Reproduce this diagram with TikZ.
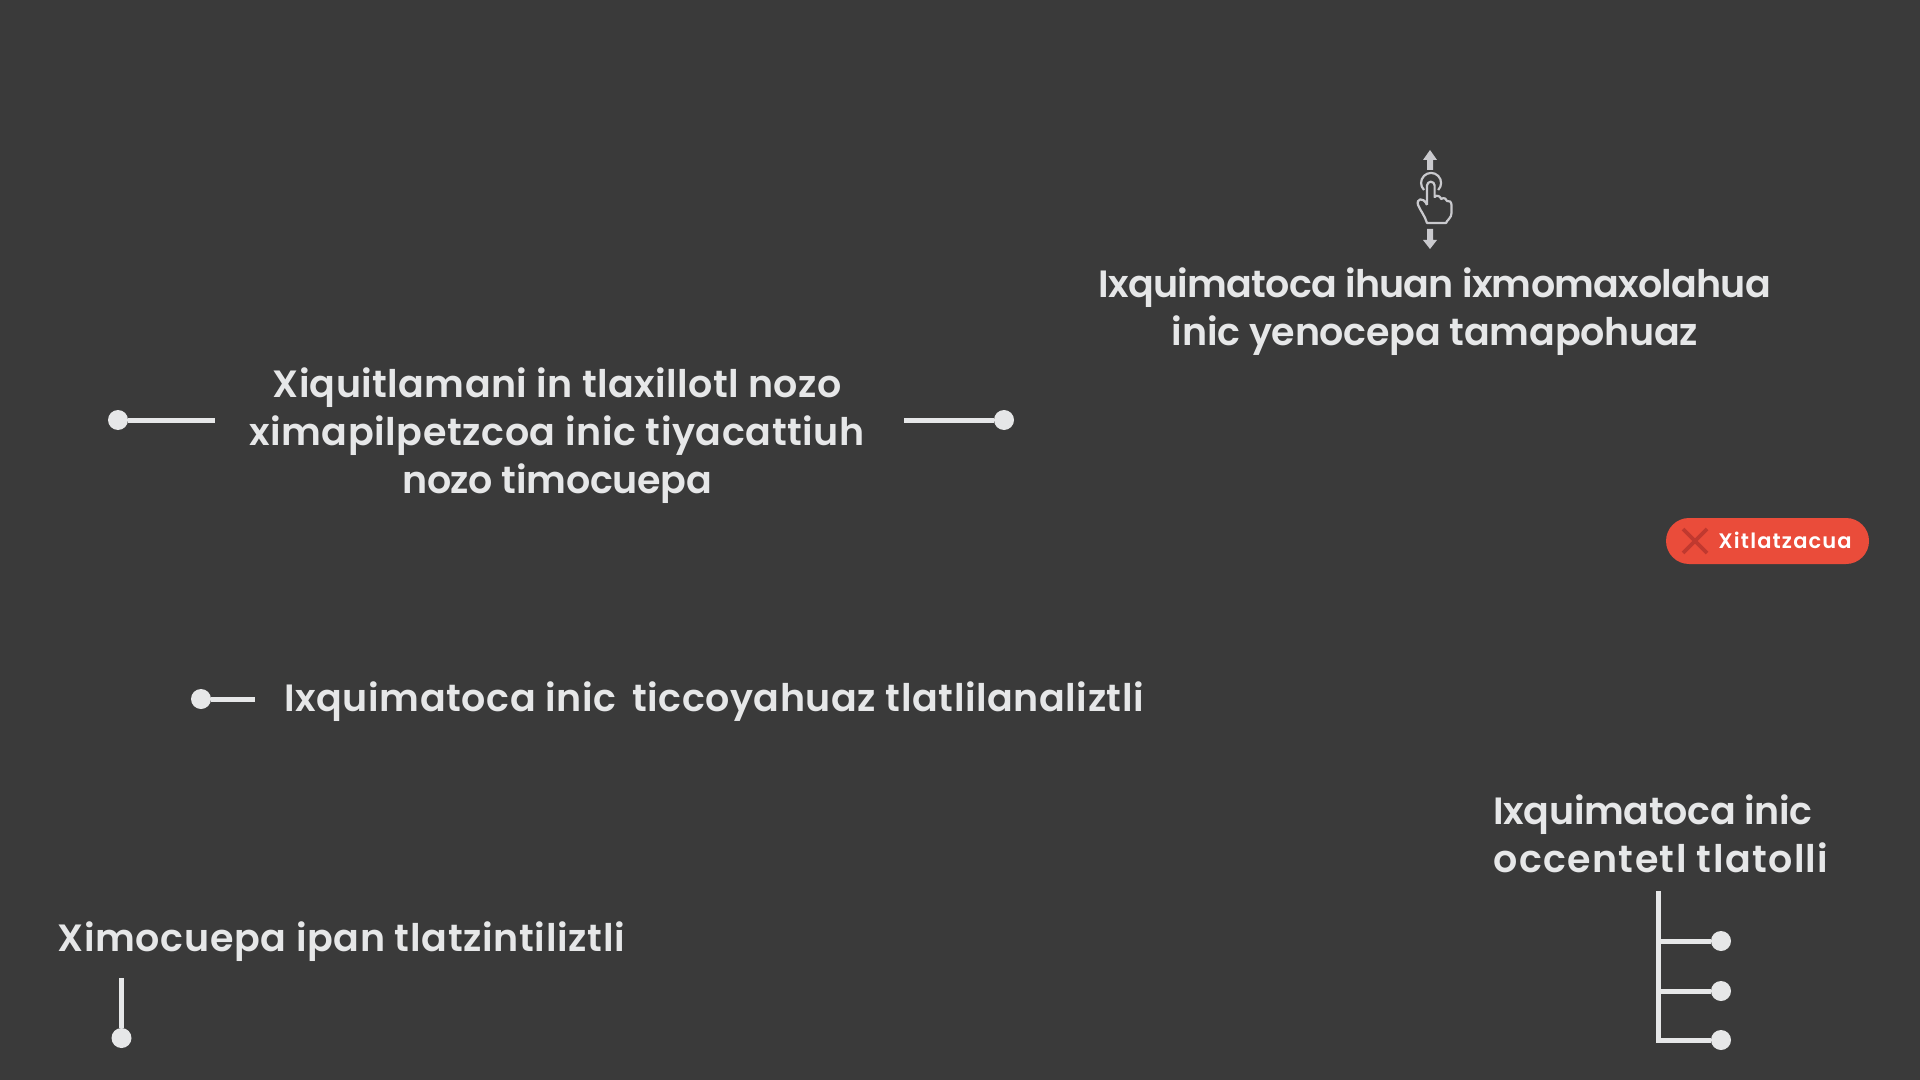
\documentclass[tikz,border=0pt]{standalone}
\usepackage{fontspec}
\setmainfont{Poppins SemiBold}
\newcommand{\spaced}[2]{{\addfontfeature{LetterSpace=#1}#2}}
\definecolor{slatebg}{HTML}{3A3A3A}
\definecolor{paleline}{HTML}{E6E7E8}
\definecolor{handgrey}{HTML}{C9C9CD}
\definecolor{pillred}{HTML}{EA4C3A}
\definecolor{crossred}{HTML}{C0392F}
\tikzset{
  lbl/.style={text=paleline,font=\fontsize{19}{24}\selectfont,inner sep=0pt,align=center},
  tip/.style={circle,fill=paleline,inner sep=0pt,minimum size=10pt},
  lead/.style={draw=paleline,line width=2.5pt}
}
\begin{document}
\begin{tikzpicture}[x=0.5pt,y=-0.5pt]
  \fill[slatebg] (0,0) rectangle (1920,1080);
  \useasboundingbox (0,0) rectangle (1920,1080);
  % swipe hint
  \fill[handgrey] (1430,150) -- (1437,160) -- (1433,160) -- (1433,170) -- (1427,170) -- (1427,160) -- (1423,160) -- cycle;
  \fill[handgrey] (1430,249) -- (1437,240) -- (1433,240) -- (1433,229) -- (1427,229) -- (1427,240) -- (1423,240) -- cycle;
  \draw[handgrey,line width=1.1pt] (1424,190) arc (135:405:10);
  \draw[handgrey,fill=slatebg,line width=1.1pt,line join=round] (1427,205) -- (1427,185.5) arc (180:360:3.8) -- (1434.6,197)
    .. controls (1437,194) and (1441,197) .. (1441,199) .. controls (1444,197) and (1447,199) .. (1447,201)
    .. controls (1449,200) and (1451.5,202) .. (1451.5,205) -- (1451.5,213) .. controls (1451.5,218) and (1447,220) .. (1446,223)
    -- (1427,223) .. controls (1425,216) and (1420,210) .. (1418,205) .. controls (1416,199) and (1423,196) .. (1427,205);
  \node[lbl] (swipe) at (1435,312) {\spaced{-2}{Ixquimatoca ihuan ixmomaxolahua}\\\spaced{-0.6}{inic yenocepa tamapohuaz}};
  % left block
  \node[lbl] (middle) at (557,436) {\spaced{1.05}{Xiquitlamani in tlaxillotl nozo}\\\spaced{1.55}{ximapilpetzcoa inic tiyacattiuh}\\\spaced{-0.8}{nozo timocuepa}};
  \node[tip] (ldot) at (118,420) {};
  \node[tip] (rdot) at (1004,420) {};
  \coordinate (lend) at (215,420);
  \coordinate (rend) at (904,420);
  \draw[lead] (ldot) -- (lend);
  \draw[lead] (rdot) -- (rend);
  % single row
  \node[lbl,anchor=west] (tap) at (284,702) {\spaced{1.5}{Ixquimatoca inic\, ticcoyahuaz tlatlilanaliztli}};
  \node[tip] (tapdot) at (201,699) {};
  \coordinate (tapend) at (255,699);
  \draw[lead] (tapdot) -- (tapend);
  % close button
  \node[fill=pillred,rounded corners=11.5pt,minimum width=101.5pt,minimum height=23pt,inner sep=0pt] (pill) at (1767.5,541) {};
  \node[text=white,font=\fontsize{10.5}{12}\selectfont,inner sep=0pt,anchor=west] (pilltext) at (1718,540) {\spaced{5.5}{Xitlatzacua}};
  \draw[crossred,line width=1.9pt] (1683,529) -- (1707,553) (1707,529) -- (1683,553);
  % back label
  \node[lbl,anchor=west] (back) at (57,942) {\spaced{1.75}{Ximocuepa ipan tlatzintiliztli}};
  \node[tip] (backdot) at (121.5,1038) {};
  \coordinate (backend) at (121.5,978);
  \draw[lead] (backdot) -- (backend);
  % tree
  \node[lbl,anchor=west,align=left] (tree) at (1493,834) {\spaced{-0.9}{Ixquimatoca inic}\\\spaced{3.65}{occentetl tlatolli}};
  \coordinate (top) at (1658,891);
  \foreach \n/\y in {a/941,b/991,c/1040} {\node[tip] (\n) at (1721,\y) {};}
  \draw[lead] (top) |- (c);
  \draw[lead] (1658,941) -- (a);
  \draw[lead] (1658,991) -- (b);
\end{tikzpicture}
\end{document}
